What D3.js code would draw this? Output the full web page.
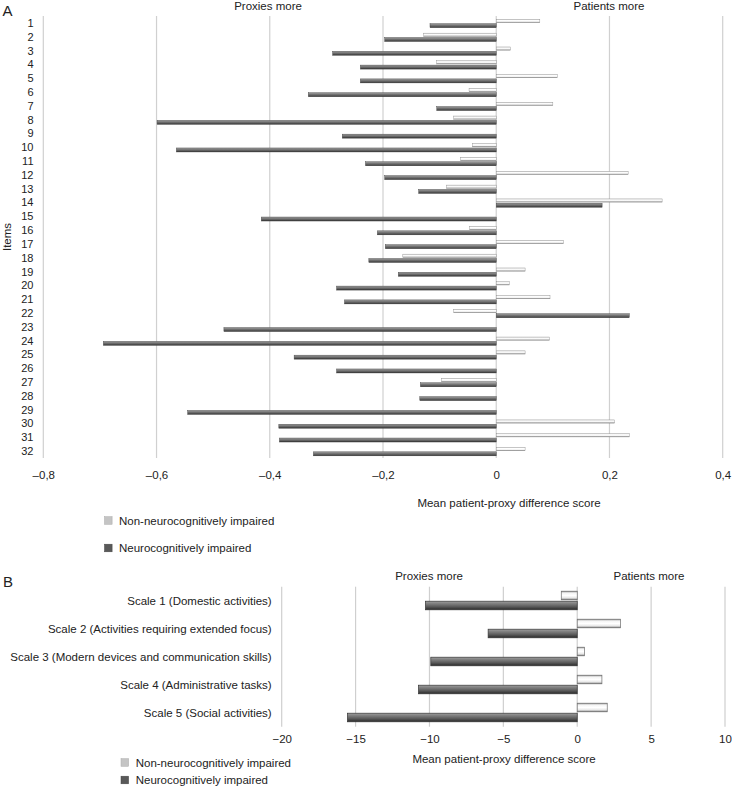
<!DOCTYPE html>
<html><head><meta charset="utf-8">
<script src="https://cdn.jsdelivr.net/npm/d3@7"></script>
<style>
html,body{margin:0;padding:0;background:#fff;}
svg{display:block;}
text{font-family:"Liberation Sans",Arial,Helvetica,sans-serif;fill:#222;}
</style></head>
<body>
<svg id="c" width="732" height="786"></svg>
<script>
// ---- Panel A data ----
const items = d3.range(1, 33).map(String);
const nonImpairedA = [0.077,-0.128,0.025,-0.105,0.108,-0.048,0.100,-0.075,0.0,-0.042,-0.063,0.233,-0.088,0.293,0.0,-0.047,0.119,-0.165,0.051,0.023,0.095,-0.075,0.0,0.094,0.051,0.0,-0.097,0.0,0.0,0.209,0.235,0.051];
const impairedA = [-0.117,-0.197,-0.289,-0.240,-0.240,-0.332,-0.105,-0.599,-0.272,-0.565,-0.231,-0.197,-0.137,0.187,-0.415,-0.210,-0.196,-0.225,-0.173,-0.282,-0.268,0.235,-0.481,-0.694,-0.357,-0.282,-0.134,-0.135,-0.545,-0.384,-0.383,-0.323];
const ticksA = [-0.8,-0.6,-0.4,-0.2,0,0.2,0.4];
const tickLabelsA = ["–0,8","–0,6","–0,4","–0,2","0","0,2","0,4"];

// ---- Panel B data ----
const scales = ["Scale 1 (Domestic activities)","Scale 2 (Activities requiring extended focus)","Scale 3 (Modern devices and communication skills)","Scale 4 (Administrative tasks)","Scale 5 (Social activities)"];
const nonImpairedB = [-1.08, 2.93, 0.49, 1.67, 2.03];
const impairedB = [-10.27, -6.03, -9.91, -10.74, -15.55];
const ticksB = [-20,-15,-10,-5,0,5,10];
const tickLabelsB = ["−20","−15","−10","−5","0","5","10"];

const seriesNames = ["Non-neurocognitively impaired","Neurocognitively impaired"];

const FS = 11.5;
const svg = d3.select("#c");
const defs = svg.append("defs");
function grad(id, stops){
  const g = defs.append("linearGradient").attr("id", id).attr("x1",0).attr("y1",0).attr("x2",0).attr("y2",1);
  stops.forEach(s => g.append("stop").attr("offset", s[0]).attr("stop-color", s[1]));
}
grad("lightG", [[0,"#d8d8d8"],[0.3,"#ffffff"],[0.65,"#f2f2f2"],[1,"#7a7a7a"]]);
grad("darkG", [[0,"#a0a0a0"],[0.35,"#7c7c7c"],[0.7,"#5a5a5a"],[1,"#2e2e2e"]]);
grad("lightGB", [[0,"#8c8c8c"],[0.2,"#f4f4f4"],[0.5,"#ffffff"],[0.8,"#e6e6e6"],[1,"#6a6a6a"]]);
grad("darkGB", [[0,"#a0a0a0"],[0.25,"#828282"],[0.6,"#5e5e5e"],[1,"#2a2a2a"]]);

// ================= Panel A =================
const xA = d3.scaleLinear().domain([-0.8, 0.4]).range([43.3, 722.7]);
const yA = d3.scaleBand().domain(items).range([16, 458]);
const subA = d3.scaleBand().domain([0,1]).range([2.6, 12.0]);

const gA = svg.append("g");
gA.selectAll("line.grid").data(ticksA).join("line")
  .attr("x1", d => xA(d)).attr("x2", d => xA(d))
  .attr("y1", 16).attr("y2", 458)
  .attr("stroke", "#d0d0d0").attr("stroke-width", 1.2);

const rowsA = items.map((it, i) => ({it, v:[nonImpairedA[i], impairedA[i]]}));
rowsA.forEach(r => {
  r.v.forEach((v, s) => {
    const h = s === 0 ? 3.2 : 4;
    const yc = yA(r.it) + subA(s) + subA.bandwidth()/2;
    gA.append("rect")
      .attr("x", Math.min(xA(0), xA(v))).attr("width", Math.abs(xA(v) - xA(0)))
      .attr("y", yc - h/2).attr("height", h)
      .attr("fill", s === 0 ? "url(#lightG)" : "url(#darkG)")
      .attr("stroke", s === 0 ? "#8a8a8a" : "#3a3a3a").attr("stroke-width", 0.4);
  });
});

gA.selectAll("text.item").data(items).join("text")
  .attr("x", 33.5).attr("y", d => yA(d) + yA.bandwidth()/2 + 4)
  .attr("text-anchor", "end").attr("font-size", 11).text(d => d);

const axA = d3.axisBottom(xA).tickValues(ticksA).tickSize(0)
  .tickFormat((d, i) => tickLabelsA[i]);
const axGA = svg.append("g").attr("transform", "translate(0,468)").call(axA);
axGA.select(".domain").remove();
axGA.selectAll("text").attr("font-size", FS).attr("fill","#222").style("font-family",'"Liberation Sans",Arial,sans-serif');

svg.append("text").attr("x", 509).attr("y", 507).attr("text-anchor","middle")
  .attr("font-size", FS).text("Mean patient-proxy difference score");
svg.append("text").attr("x", 2.5).attr("y", 15.5).attr("font-size", 15).text("A");
svg.append("text").attr("x", 268).attr("y", 9.5).attr("text-anchor","middle").attr("font-size", FS).text("Proxies more");
svg.append("text").attr("x", 609).attr("y", 9.5).attr("text-anchor","middle").attr("font-size", FS).text("Patients more");
svg.append("text").attr("transform","translate(10.5,237) rotate(-90)").attr("text-anchor","middle")
  .attr("font-size", FS).text("Items");

const legA = svg.append("g");
seriesNames.forEach((n, i) => {
  const y = 520.5 + i * 27.5;
  legA.append("rect").attr("x", 104.5).attr("y", y - 3.8).attr("width", 7.6).attr("height", 7.6)
    .attr("fill", i === 0 ? "#c4c4c4" : "#595959").attr("stroke", i === 0 ? "#aaa" : "#444").attr("stroke-width", 0.5);
  legA.append("text").attr("x", 119).attr("y", y + 4.2).attr("font-size", FS).text(n);
});

// ================= Panel B =================
const xB = d3.scaleLinear().domain([-20, 10]).range([281.7, 725]);
const yB = d3.scaleBand().domain(scales).range([586.7, 726.7]);
const subB = d3.scaleBand().domain([0,1]).range([3.8, 23.8]);
const gB = svg.append("g");

gB.selectAll("line.grid").data(ticksB).join("line")
  .attr("x1", d => xB(d)).attr("x2", d => xB(d))
  .attr("y1", 586.7).attr("y2", 726.7)
  .attr("stroke", "#cfcfcf").attr("stroke-width", 1.2);

scales.forEach((sc, i) => {
  [nonImpairedB[i], impairedB[i]].forEach((v, s) => {
    const h = 8.6;
    const yc = yB(sc) + subB(s) + subB.bandwidth()/2;
    gB.append("rect")
      .attr("x", Math.min(xB(0), xB(v))).attr("width", Math.abs(xB(v) - xB(0)))
      .attr("y", yc - h/2).attr("height", h)
      .attr("fill", s === 0 ? "url(#lightGB)" : "url(#darkGB)")
      .attr("stroke", s === 0 ? "#6e6e6e" : "#333").attr("stroke-width", 0.7);
  });
});

gB.selectAll("text.scale").data(scales).join("text")
  .attr("x", 271.7).attr("y", d => yB(d) + yB.bandwidth()/2 + 4)
  .attr("text-anchor","end").attr("font-size", FS).text(d => d);

const axB = d3.axisBottom(xB).tickValues(ticksB).tickSize(0)
  .tickFormat((d, i) => tickLabelsB[i]);
const axGB = svg.append("g").attr("transform", "translate(0,732)").call(axB);
axGB.select(".domain").remove();
axGB.selectAll("text").attr("font-size", FS).attr("fill","#222").style("font-family",'"Liberation Sans",Arial,sans-serif');

svg.append("text").attr("x", 504).attr("y", 763).attr("text-anchor","middle").attr("font-size", FS)
  .text("Mean patient-proxy difference score");
svg.append("text").attr("x", 3).attr("y", 586.7).attr("font-size", 15).text("B");
svg.append("text").attr("x", 429).attr("y", 580).attr("text-anchor","middle").attr("font-size", FS).text("Proxies more");
svg.append("text").attr("x", 649).attr("y", 580).attr("text-anchor","middle").attr("font-size", FS).text("Patients more");

const legB = svg.append("g");
seriesNames.forEach((n, i) => {
  const y = 762.5 + i * 17.5;
  legB.append("rect").attr("x", 121).attr("y", y - 3.8).attr("width", 7.6).attr("height", 7.6)
    .attr("fill", i === 0 ? "#c4c4c4" : "#595959").attr("stroke", i === 0 ? "#aaa" : "#444").attr("stroke-width", 0.5);
  legB.append("text").attr("x", 135.7).attr("y", y + 4.2).attr("font-size", FS).text(n);
});
</script>
</body></html>
